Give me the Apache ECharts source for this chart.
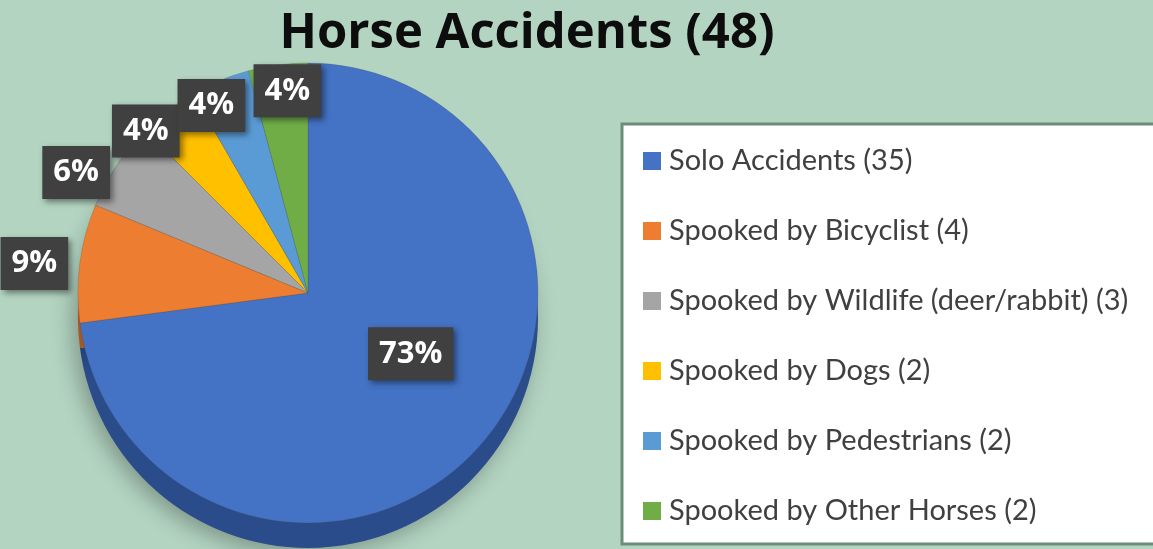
<!DOCTYPE html>
<html>
<head>
    <meta charset="utf-8">
    <script src="https://cdn.jsdelivr.net/npm/echarts@6/dist/echarts.min.js"></script>
    <style>
        html, body { margin: 0; padding: 0; background: #b3d4c1; }
    </style>
</head>
<body>
    <div id="main" style="width: 1153px;height:549px"></div>
    <script type="text/javascript">
        // categories and counts
        var names = ['Solo Accidents (35)', 'Spooked by Bicyclist (4)', 'Spooked by Wildlife (deer/rabbit) (3)',
            'Spooked by Dogs (2)', 'Spooked by Pedestrians (2)', 'Spooked by Other Horses (2)'];
        var counts = [35, 4, 3, 2, 2, 2];
        var topColors = ['#4472c4', '#ed7d31', '#a5a5a5', '#ffc000', '#5b9bd5', '#70ad47'];
        var sideColors = ['#2b4c8a', '#a8561f', '#737373', '#b38600', '#3d6d99', '#4e7a31'];
        // label distance from the rim (negative = inward) and small nudges so the boxes spread like the original
        var labelOffsets = [0, 42, 32, 2, -14, -26];
        var labelNudge = [[14, -17], [-4, 6], [-14, 25], [-21, 22], [-14, 12], [6, 0]];

        var myChart = echarts.init(document.getElementById('main'));

        var topData = [], sideData = [], legendData = [];
        for (var i = 0; i < names.length; i++) {
            topData.push({
                name: names[i], value: counts[i],
                itemStyle: { color: topColors[i] },
                label: { position: i === 0 ? 'inside' : 'outside' },
                labelLine: { show: false, length: labelOffsets[i], length2: 0 }
            });
            sideData.push({ name: names[i], value: counts[i], itemStyle: { color: sideColors[i] } });
            legendData.push({ name: names[i], itemStyle: { color: topColors[i] } });
        }

        var option = {
            backgroundColor: '#b3d4c1',
            title: {
                text: 'Horse Accidents (48)',
                left: 522,
                top: 5,
                textAlign: 'center',
                textStyle: { fontFamily: 'Open Sans', fontWeight: 'bold', fontSize: 49, color: '#0d0d0d' }
            },
            legend: {
                orient: 'vertical',
                left: 622,
                top: 124,
                data: legendData,
                icon: 'rect',
                itemWidth: 18,
                itemHeight: 18,
                itemGap: 40,
                backgroundColor: '#fff',
                borderColor: '#6b8d79',
                borderWidth: 3,
                borderRadius: 0,
                padding: [22, 300, 18, 21],
                textStyle: { fontFamily: 'Lato', fontSize: 29, lineHeight: 30, color: '#404040', padding: [0, 0, 0, 3] }
            },
            series: [{
                name: 'side',
                type: 'pie',
                silent: true,
                startAngle: 90,
                center: [308, 318],
                radius: 230,
                label: { show: false },
                labelLine: { show: false },
                itemStyle: { shadowBlur: 22, shadowColor: 'rgba(0,0,0,0.3)', shadowOffsetX: -5, shadowOffsetY: 6 },
                data: sideData
            }, {
                name: 'Horse Accidents',
                type: 'pie',
                startAngle: 90,
                center: [308, 293],
                radius: 230,
                avoidLabelOverlap: false,
                percentPrecision: 0,
                itemStyle: { borderColor: 'rgba(70,70,70,0.35)', borderWidth: 0.6 },
                label: {
                    formatter: '{d}%',
                    color: '#fff',
                    fontFamily: 'Open Sans',
                    fontWeight: 'bold',
                    fontSize: 31,
                    lineHeight: 31,
                    distanceToLabelLine: 0,
                    backgroundColor: '#404040',
                    padding: [12, 11, 10, 11],
                    shadowBlur: 6,
                    shadowColor: 'rgba(0,0,0,0.45)',
                    shadowOffsetX: 3,
                    shadowOffsetY: 3
                },
                labelLayout: function (params) {
                    return {
                        align: 'center',
                        verticalAlign: 'middle',
                        hideOverlap: false,
                        dx: labelNudge[params.dataIndex][0],
                        dy: labelNudge[params.dataIndex][1]
                    };
                },
                data: topData
            }]
        };

        myChart.setOption(option);
    </script>
</body>
</html>
